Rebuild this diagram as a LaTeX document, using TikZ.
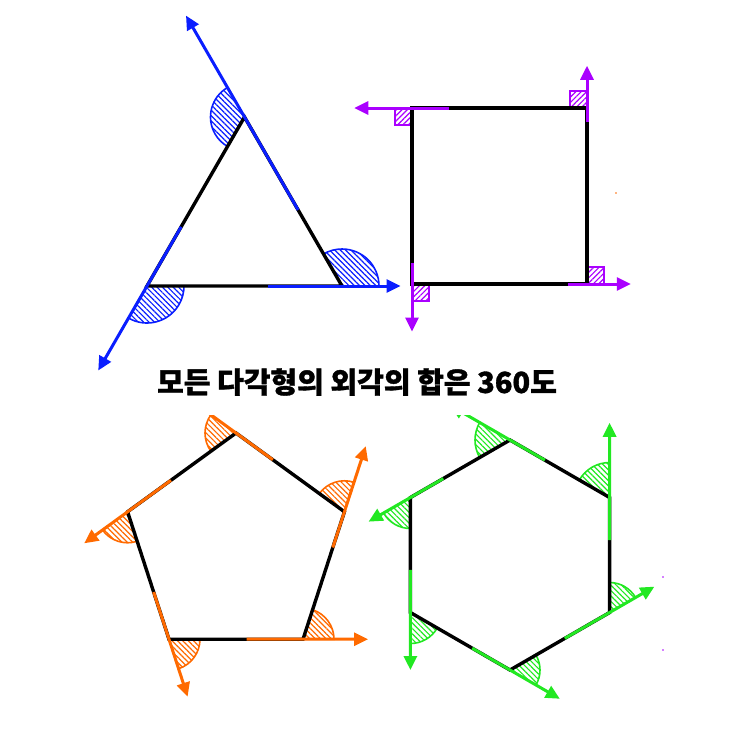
\documentclass[tikz,border=0pt]{standalone}
\usepackage{fontspec}
\newfontfamily\kr{Noto Sans CJK KR}[FakeBold=1.2]
\usetikzlibrary{calc,arrows.meta,patterns.meta}
\definecolor{cb}{HTML}{0A1EFF}
\definecolor{cp}{HTML}{AA00FF}
\definecolor{co}{HTML}{FF6A00}
\definecolor{cg}{HTML}{22E822}
\tikzset{
  poly/.style={line width=3.4pt, draw=black, line join=miter},
  ext/.style={line width=3pt, draw=#1, -{Triangle[length=14pt,width=13pt]}},
  wedge/.style={line width=1.6pt, draw=#1, pattern color=#1,
    pattern={Lines[angle=-45,distance=3.8pt,line width=1.2pt]}},
  rmark/.style={line width=1.6pt, draw=#1, pattern color=#1,
    pattern={Lines[angle=45,distance=3.8pt,line width=1.2pt]}},
  dot/.style={fill=#1, draw=none, circle, inner sep=0pt, minimum size=1.6pt}
}
\begin{document}
\begin{tikzpicture}[x=1pt,y=1pt]
\useasboundingbox (0,0) rectangle (743,-732);
% ---------------- triangle ----------------
\coordinate (A) at (244.5,-117);
\coordinate (B) at (147,-286);
\coordinate (C) at (342,-286);
\draw[wedge=cb] (A) -- ++(120:34) arc[start angle=120,end angle=240,radius=34] -- cycle;
\draw[wedge=cb] (B) -- ++(240:37) arc[start angle=240,end angle=360,radius=37] -- cycle;
\draw[wedge=cb] (C) -- ++(0:37) arc[start angle=0,end angle=120,radius=37] -- cycle;
\draw[poly] (A) -- (B) -- (C) -- cycle;
\draw[ext=cb] ($(C)!0.45!(A)$) -- ($(C)!1.6!(A)$);
\draw[ext=cb] ($(A)!0.65!(B)$) -- ($(A)!1.5!(B)$);
\draw[ext=cb] ($(B)!0.62!(C)$) -- ($(B)!1.3!(C)$);
% ---------------- square ----------------
\coordinate (S1) at (412,-108);
\coordinate (S2) at (587,-108);
\coordinate (S3) at (587,-284);
\coordinate (S4) at (412,-284);
\draw[rmark=cp] (S1) rectangle ++(-17,-17);
\draw[rmark=cp] (S2) rectangle ++(-17,17);
\draw[rmark=cp] (S3) rectangle ++(17,17);
\draw[rmark=cp] (S4) rectangle ++(17,-17);
\draw[poly] (S1) -- (S2) -- (S3) -- (S4) -- cycle;
\draw[ext=cp] ($(S2)!0.79!(S1)$) -- ($(S2)!1.33!(S1)$);
\draw[ext=cp] ($(S3)!0.92!(S2)$) -- ($(S3)!1.24!(S2)$);
\draw[ext=cp] ($(S4)!0.89!(S3)$) -- ($(S4)!1.25!(S3)$);
\draw[ext=cp] ($(S1)!0.88!(S4)$) -- ($(S1)!1.27!(S4)$);
% ---------------- title ----------------
\node[font=\kr\bfseries\fontsize{29}{34}\selectfont, inner sep=0pt] (title) at (357,-382) {모든 다각형의 외각의 합은 360도};
% ---------------- bottom diagrams ----------------
\begin{scope}
\clip (0,-415) rectangle (743,-732);
% pentagon
\coordinate (PC) at (236,-547);
\coordinate (P1) at ($(PC)+(90:114)$);
\coordinate (P2) at ($(PC)+(18:114)$);
\coordinate (P3) at ($(PC)+(-54:114)$);
\coordinate (P4) at ($(PC)+(234:114)$);
\coordinate (P5) at ($(PC)+(162:114)$);
\draw[wedge=co] (P1) -- ++(144:31) arc[start angle=144,end angle=216,radius=31] -- cycle;
\draw[wedge=co] (P2) -- ++(72:31) arc[start angle=72,end angle=144,radius=31] -- cycle;
\draw[wedge=co] (P3) -- ++(0:31) arc[start angle=0,end angle=72,radius=31] -- cycle;
\draw[wedge=co] (P4) -- ++(-72:31) arc[start angle=-72,end angle=0,radius=31] -- cycle;
\draw[wedge=co] (P5) -- ++(216:31) arc[start angle=216,end angle=288,radius=31] -- cycle;
\draw[poly] (P1) -- (P2) -- (P3) -- (P4) -- (P5) -- cycle;
\draw[ext=co] ($(P2)!0.66!(P1)$) -- ($(P2)!1.5!(P1)$);
\draw[ext=co] ($(P3)!0.72!(P2)$) -- ($(P3)!1.515!(P2)$);
\draw[ext=co] ($(P4)!0.58!(P3)$) -- ($(P4)!1.485!(P3)$);
\draw[ext=co] ($(P5)!0.63!(P4)$) -- ($(P5)!1.45!(P4)$);
\draw[ext=co] ($(P1)!0.6!(P5)$) -- ($(P1)!1.4!(P5)$);
% hexagon
\coordinate (HC) at (510,-555);
\coordinate (H1) at ($(HC)+(90:115)$);
\coordinate (H2) at ($(HC)+(30:115)$);
\coordinate (H3) at ($(HC)+(-30:115)$);
\coordinate (H4) at ($(HC)+(-90:115)$);
\coordinate (H5) at ($(HC)+(210:115)$);
\coordinate (H6) at ($(HC)+(150:115)$);
\draw[wedge=cg] (H1) -- ++(150:35) arc[start angle=150,end angle=210,radius=35] -- cycle;
\draw[wedge=cg] (H2) -- ++(90:35) arc[start angle=90,end angle=150,radius=35] -- cycle;
\draw[wedge=cg] (H3) -- ++(30:30) arc[start angle=30,end angle=90,radius=30] -- cycle;
\draw[wedge=cg] (H4) -- ++(-30:30) arc[start angle=-30,end angle=30,radius=30] -- cycle;
\draw[wedge=cg] (H5) -- ++(270:31) arc[start angle=270,end angle=330,radius=31] -- cycle;
\draw[wedge=cg] (H6) -- ++(210:31) arc[start angle=210,end angle=270,radius=31] -- cycle;
\draw[poly] (H1) -- (H2) -- (H3) -- (H4) -- (H5) -- (H6) -- cycle;
\draw[ext=cg] ($(H2)!0.65!(H1)$) -- ($(H2)!1.6!(H1)$);
\draw[ext=cg] ($(H3)!0.63!(H2)$) -- ($(H3)!1.65!(H2)$);
\draw[ext=cg] ($(H4)!0.55!(H3)$) -- ($(H4)!1.45!(H3)$);
\draw[ext=cg] ($(H5)!0.62!(H4)$) -- ($(H5)!1.5!(H4)$);
\draw[ext=cg] ($(H6)!0.63!(H5)$) -- ($(H6)!1.5!(H5)$);
\draw[ext=cg] ($(H1)!0.67!(H6)$) -- ($(H1)!1.42!(H6)$);
\end{scope}
% stray dots
\node[dot=co] (d1) at (616,-193) {};
\node[dot=cp] (d2) at (663,-577) {};
\node[dot=cp] (d3) at (663,-650) {};
\end{tikzpicture}
\end{document}
